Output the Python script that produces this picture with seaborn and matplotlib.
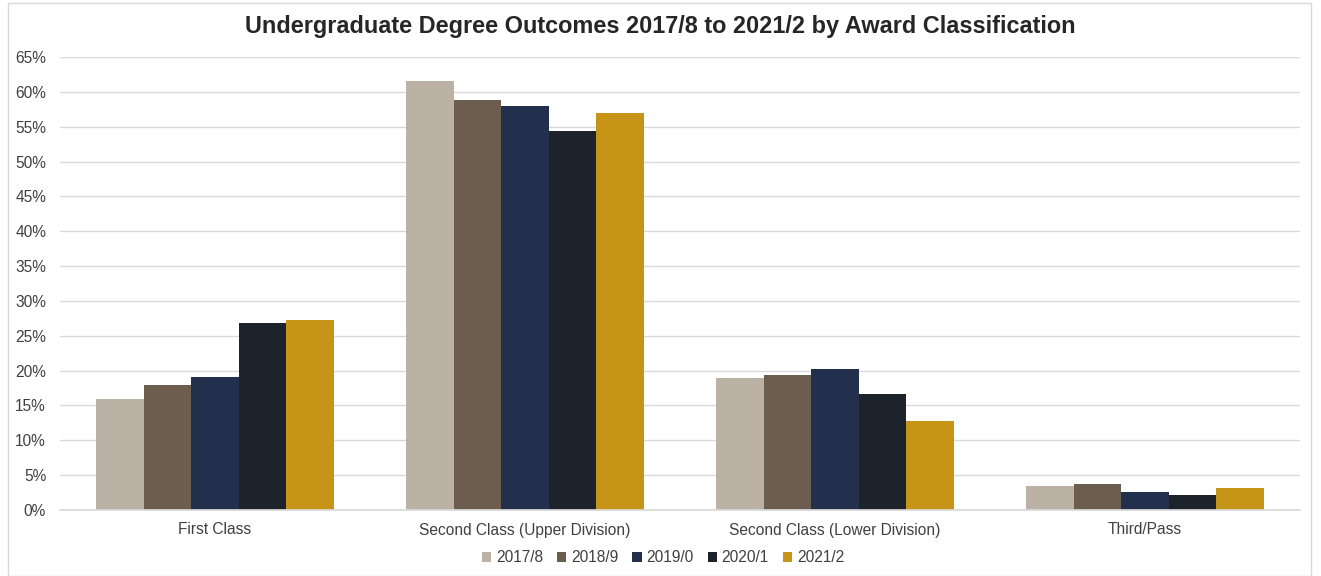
import matplotlib
matplotlib.use("Agg")
import matplotlib.pyplot as plt
import seaborn as sns
import pandas as pd
from matplotlib.patches import Rectangle
from matplotlib.ticker import FuncFormatter, MultipleLocator

categories = ["First Class", "Second Class (Upper Division)",
              "Second Class (Lower Division)", "Third/Pass"]
years = ["2017/8", "2018/9", "2019/0", "2020/1", "2021/2"]
v_2017_8 = [15.9, 61.5, 19.0, 3.5]
v_2018_9 = [18.0, 58.8, 19.4, 3.7]
v_2019_0 = [19.1, 57.9, 20.2, 2.6]
v_2020_1 = [26.9, 54.4, 16.6, 2.1]
v_2021_2 = [27.2, 57.0, 12.7, 3.1]
colors = ["#BCB1A5", "#6D5D4F", "#22304D", "#1C232B", "#C69417"]

series = [v_2017_8, v_2018_9, v_2019_0, v_2020_1, v_2021_2]
rows = []
for y, vals in zip(years, series):
    for c, v in zip(categories, vals):
        rows.append({"Classification": c, "Year": y, "Value": v})
df = pd.DataFrame(rows)

sns.set_theme(style="white")
plt.rcParams["font.family"] = ["Liberation Sans", "DejaVu Sans"]

fig = plt.figure(figsize=(13.21, 5.76), dpi=100)
ax = fig.add_axes([60/1321, 1-510/576, 1240/1321, (510-57)/576])

sns.barplot(data=df, x="Classification", y="Value", hue="Year",
            hue_order=years, order=categories, palette=colors,
            width=0.765, gap=0, saturation=1, edgecolor="none",
            linewidth=0, ax=ax, legend=True)

ax.set_ylim(0, 65)
ax.set_xlim(-0.5, 3.5)
ax.yaxis.set_major_locator(MultipleLocator(5))
ax.yaxis.set_major_formatter(FuncFormatter(lambda v, p: f"{int(round(v))}%"))
ax.grid(axis="y", color="#D9D9D9", linewidth=1)
ax.set_axisbelow(True)
for s in ["top", "right", "left"]:
    ax.spines[s].set_visible(False)
ax.spines["bottom"].set_color("#D9D9D9")
ax.tick_params(axis="both", length=0, labelsize=11.2, colors="#404040")
ax.tick_params(axis="x", pad=9)
ax.tick_params(axis="y", pad=10)
ax.set_xlabel("")
ax.set_ylabel("")

handles, labels = ax.get_legend_handles_labels()
ax.legend(handles, labels, ncol=5, loc="center",
          bbox_to_anchor=(663/1321, 1-558/576), bbox_transform=fig.transFigure,
          frameon=False, fontsize=11.2, handlelength=0.6, handleheight=0.6,
          handletextpad=0.3, columnspacing=0.9, labelcolor="#404040")

fig.text(660/1321, 1-27/576,
         "Undergraduate Degree Outcomes 2017/8 to 2021/2 by Award Classification",
         ha="center", va="center", fontsize=16.9, fontweight="bold", color="#262626")

fig.patches.append(Rectangle((8/1321, 0), 1303/1321, 1-3/576,
                             transform=fig.transFigure, fill=False,
                             edgecolor="#D9D9D9", linewidth=1))

fig.savefig("out.png", dpi=100, facecolor="white")
